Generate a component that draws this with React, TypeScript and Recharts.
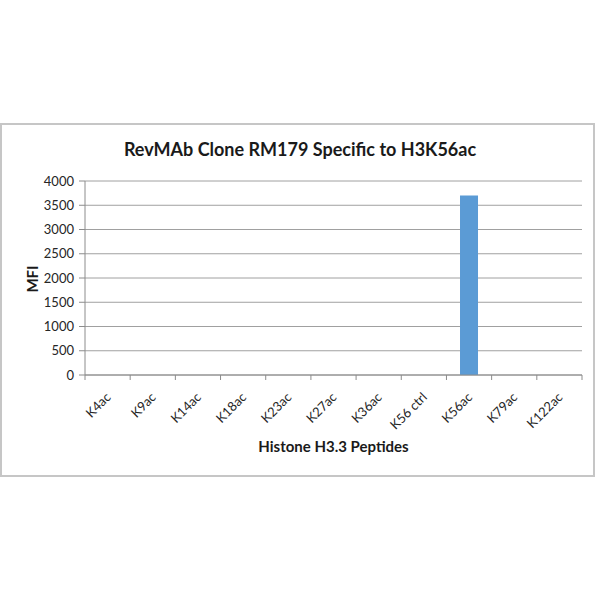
import { Bar, BarChart, CartesianGrid, XAxis, YAxis } from 'recharts';

const PEPTIDES = ['K4ac', 'K9ac', 'K14ac', 'K18ac', 'K23ac', 'K27ac', 'K36ac', 'K56 ctrl', 'K56ac', 'K79ac', 'K122ac'];
const MFI = [0, 0, 0, 0, 0, 0, 0, 0, 3700, 0, 0];
const Y_TICKS = [0, 500, 1000, 1500, 2000, 2500, 3000, 3500, 4000];

const data = PEPTIDES.map((name, i) => ({ name, mfi: MFI[i] }));

const FONT = 'Lato, "Open Sans", sans-serif';
const AXIS_GRAY = '#8c8c8c';

// x ticks: tick marks sit on the category boundaries, labels slanted at -45deg
const PeptideTick = (props: any) => {
  const { x, y, payload, index, visibleTicksCount, width } = props;
  const band = width / visibleTicksCount;
  const last = index === visibleTicksCount - 1;
  return (
    <g>
      <line x1={x - band / 2} y1={y} x2={x - band / 2} y2={y + 5} stroke={AXIS_GRAY} />
      {last && <line x1={x + band / 2} y1={y} x2={x + band / 2} y2={y + 5} stroke={AXIS_GRAY} />}
      <text
        x={x + 4}
        y={y + 23}
        transform={`rotate(-45, ${x + 4}, ${y + 23})`}
        textAnchor="end"
        fontSize={13}
        fontFamily={FONT}
        fill="#262626"
      >
        {payload.value}
      </text>
    </g>
  );
};

export default function App() {
  return (
    <div style={{ position: 'absolute', left: 0, top: 0, width: 600, height: 600, background: '#fff' }}>
      <div
        style={{
          position: 'absolute',
          left: 0,
          top: 123,
          width: 595,
          height: 354,
          boxSizing: 'border-box',
          border: '2px solid #c6c6c6',
        }}
      />
      <div
        style={{
          position: 'absolute',
          left: 0,
          top: 137,
          width: 600,
          textAlign: 'center',
          fontFamily: FONT,
          fontWeight: 'bold',
          fontSize: 18,
          lineHeight: '24px',
          color: '#1a1a1a',
        }}
      >
        RevMAb Clone RM179 Specific to H3K56ac
      </div>
      <div
        style={{
          position: 'absolute',
          left: 32 - 30,
          top: 279 - 10,
          width: 60,
          height: 20,
          lineHeight: '20px',
          textAlign: 'center',
          transform: 'rotate(-90deg)',
          fontFamily: FONT,
          fontWeight: 'bold',
          fontSize: 15,
          color: '#1a1a1a',
        }}
      >
        MFI
      </div>
      <div
        style={{
          position: 'absolute',
          left: 85,
          top: 436,
          width: 497,
          textAlign: 'center',
          fontFamily: FONT,
          fontWeight: 'bold',
          fontSize: 15,
          lineHeight: '20px',
          color: '#1a1a1a',
        }}
      >
        Histone H3.3 Peptides
      </div>
      <div style={{ position: 'absolute', left: 0, top: 0 }}>
        <BarChart
          width={600}
          height={600}
          data={data}
          margin={{ top: 181, right: 18, left: 25, bottom: 185 }}
          barCategoryGap="30%"
        >
          <CartesianGrid vertical={false} stroke="#a0a0a0" />
          <XAxis
            dataKey="name"
            interval={0}
            height={40}
            tickLine={false}
            tickSize={0}
            tickMargin={0}
            stroke={AXIS_GRAY}
            tick={<PeptideTick />}
          />
          <YAxis
            width={60}
            domain={[0, 4000]}
            ticks={Y_TICKS}
            interval={0}
            tickSize={6}
            tickMargin={5}
            stroke={AXIS_GRAY}
            tick={{ fontSize: 13, fontFamily: FONT, fill: '#262626' }}
          />
          <Bar dataKey="mfi" fill="#5b9bd5" isAnimationActive={false} />
        </BarChart>
      </div>
    </div>
  );
}
